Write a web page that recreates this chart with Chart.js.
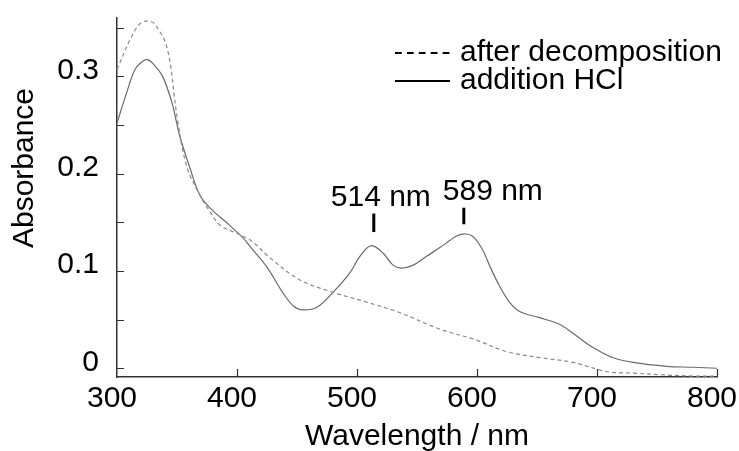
<!DOCTYPE html>
<html lang="en">
<head>
  <meta charset="UTF-8">
  <title>Absorbance spectra</title>
  <script src="https://cdn.jsdelivr.net/npm/chart.js"></script>
  <style>
    body {
      margin: 0;
      padding: 0;
      background: #ffffff;
    }

    .chart-box {
      width: 739px;
      height: 451px;
    }
  </style>
</head>
<body>
  <div class="chart-box">
    <canvas id="spectrumChart"></canvas>
  </div>

  <script>
    // spectrum after decomposition (dashed)
    const decompWl = [300, 311, 319, 326, 332, 342, 350, 358, 369, 378, 386, 403, 413, 427, 452, 480, 508, 536, 563, 577, 597, 625, 652, 680, 700, 711, 730, 758, 780, 800];
    const decompAbs = [0.307, 0.338, 0.354, 0.357, 0.353, 0.328, 0.259, 0.208, 0.178, 0.160, 0.147, 0.137, 0.130, 0.114, 0.091, 0.078, 0.068, 0.057, 0.043, 0.037, 0.030, 0.017, 0.011, 0.006, -0.001, -0.004, -0.005, -0.007, -0.008, -0.008];

    // spectrum after addition of HCl (solid)
    const hclWl = [300, 308, 315, 322, 326, 330, 338, 346, 352, 361, 369, 378, 392, 405, 411, 425, 438, 447, 455, 467, 480, 494, 503, 512, 522, 530, 537, 547, 558, 569, 577, 583, 590, 597, 605, 611, 619, 627, 636, 652, 669, 680, 692, 700, 713, 730, 758, 780, 800];
    const hclAbs = [0.252, 0.283, 0.307, 0.316, 0.317, 0.313, 0.300, 0.272, 0.240, 0.205, 0.178, 0.164, 0.149, 0.134, 0.125, 0.104, 0.078, 0.064, 0.060, 0.063, 0.078, 0.098, 0.116, 0.126, 0.118, 0.106, 0.103, 0.106, 0.115, 0.124, 0.131, 0.136, 0.138, 0.135, 0.121, 0.104, 0.084, 0.068, 0.058, 0.052, 0.045, 0.036, 0.025, 0.019, 0.011, 0.006, 0.002, 0.001, 0.000];

    // axis ticks
    const xTickValues = [400, 500, 600, 700, 800];
    const yTickValues = [0, 0.05, 0.1, 0.15, 0.2, 0.25, 0.3, 0.35];
    const yLabelValues = [0, 0.1, 0.2, 0.3];
    const yTitle = 'Absorbance';

    // peak markers
    const peakWl = [514, 589];
    const peakLabels = ['514 nm', '589 nm'];
    const peakMarkTop = [0.159, 0.165];
    const peakMarkBottom = [0.140, 0.148];

    const FONT = '"Liberation Sans", Arial, Helvetica, sans-serif';
    Chart.defaults.font.family = FONT;
    Chart.defaults.color = '#000';

    const toPoints = (xs, ys) => xs.map((x, i) => ({ x: x, y: ys[i] }));

    // inward tick marks on both axes
    const innerTicks = {
      id: 'innerTicks',
      afterDraw(chart) {
        const { ctx, chartArea, scales } = chart;
        ctx.save();
        ctx.strokeStyle = '#333';
        ctx.lineWidth = 1.2;
        ctx.beginPath();
        yTickValues.forEach(v => {
          const y = Math.round(scales.y.getPixelForValue(v)) + 0.5;
          ctx.moveTo(chartArea.left, y);
          ctx.lineTo(chartArea.left + 7, y);
        });
        xTickValues.forEach(v => {
          const x = Math.round(scales.x.getPixelForValue(v)) + 0.5;
          ctx.moveTo(x, chartArea.bottom);
          ctx.lineTo(x, chartArea.bottom - 8);
        });
        ctx.stroke();
        ctx.restore();
      }
    };

    // y title sits a bit above the middle of the axis
    const sideTitle = {
      id: 'sideTitle',
      afterDraw(chart) {
        const { ctx } = chart;
        ctx.save();
        ctx.translate(25, 168);
        ctx.rotate(-Math.PI / 2);
        ctx.font = '30px ' + FONT;
        ctx.fillStyle = '#000';
        ctx.textAlign = 'center';
        ctx.textBaseline = 'middle';
        ctx.fillText(yTitle, 0, 0);
        ctx.restore();
      }
    };

    // peak labels with short vertical bars
    const peakMarks = {
      id: 'peakMarks',
      afterDraw(chart) {
        const { ctx, scales } = chart;
        const textShift = [7, 29];
        ctx.save();
        ctx.strokeStyle = '#000';
        ctx.lineWidth = 3;
        ctx.fillStyle = '#000';
        ctx.font = '30px ' + FONT;
        ctx.textAlign = 'center';
        ctx.textBaseline = 'alphabetic';
        peakWl.forEach((wl, i) => {
          const x = scales.x.getPixelForValue(wl);
          const top = scales.y.getPixelForValue(peakMarkTop[i]);
          const bottom = scales.y.getPixelForValue(peakMarkBottom[i]);
          ctx.beginPath();
          ctx.moveTo(x, top);
          ctx.lineTo(x, bottom);
          ctx.stroke();
          ctx.fillText(peakLabels[i], x + textShift[i], top - 8);
        });
        ctx.restore();
      }
    };

    // legend in the upper right corner
    const cornerLegend = {
      id: 'cornerLegend',
      afterDraw(chart) {
        const { ctx } = chart;
        const rows = [53, 81];
        ctx.save();
        ctx.font = '30px ' + FONT;
        ctx.fillStyle = '#000';
        ctx.textBaseline = 'middle';
        chart.data.datasets.forEach((ds, i) => {
          const y = rows[i];
          ctx.strokeStyle = '#000';
          ctx.lineWidth = 2.2;
          ctx.setLineDash((ds.borderDash || []).map(d => d * 1.7));
          ctx.beginPath();
          ctx.moveTo(395, y);
          ctx.lineTo(450, y);
          ctx.stroke();
          ctx.fillText(ds.label, 460, y);
        });
        ctx.restore();
      }
    };

    new Chart(document.getElementById('spectrumChart'), {
      type: 'line',
      data: {
        datasets: [{
          label: 'after decomposition',
          data: toPoints(decompWl, decompAbs),
          borderColor: '#8a8a8a',
          borderWidth: 1.2,
          borderDash: [4, 3],
          pointRadius: 0,
          tension: 0.35
        }, {
          label: 'addition HCl',
          data: toPoints(hclWl, hclAbs),
          borderColor: '#6a6a6a',
          borderWidth: 1.2,
          pointRadius: 0,
          tension: 0.35
        }]
      },
      options: {
        responsive: true,
        maintainAspectRatio: false,
        animation: false,
        clip: false,
        layout: { padding: { top: 18, right: 22, left: 0, bottom: 0 } },
        plugins: {
          legend: { display: false },
          tooltip: { enabled: false }
        },
        scales: {
          x: {
            type: 'linear',
            min: 300,
            max: 800,
            grid: { display: false },
            border: { display: true, color: '#333', width: 1.5 },
            ticks: {
              stepSize: 100,
              padding: -4,
              labelOffset: -5,
              maxRotation: 0,
              font: { size: 30 },
              color: '#000'
            },
            title: {
              display: true,
              text: 'Wavelength / nm',
              font: { size: 30 },
              color: '#000',
              padding: { top: 0, bottom: -4 }
            },
            afterFit(scale) {
              scale.height = 74;
              scale.paddingRight = 0;
            }
          },
          y: {
            min: -0.009,
            max: 0.36,
            grid: { display: false },
            border: { display: true, color: '#333', width: 1.5 },
            afterBuildTicks(scale) {
              scale.ticks = yTickValues.map(v => ({ value: v }));
            },
            ticks: {
              padding: 10,
              labelOffset: -6,
              font: { size: 30 },
              color: '#000',
              callback: value => yLabelValues.includes(value) ? String(value) : ''
            },
            afterFit(scale) {
              scale.width = 117;
              scale.paddingTop = 0;
              scale.paddingBottom = 0;
            }
          }
        }
      },
      plugins: [innerTicks, sideTitle, peakMarks, cornerLegend]
    });
  </script>
</body>
</html>
